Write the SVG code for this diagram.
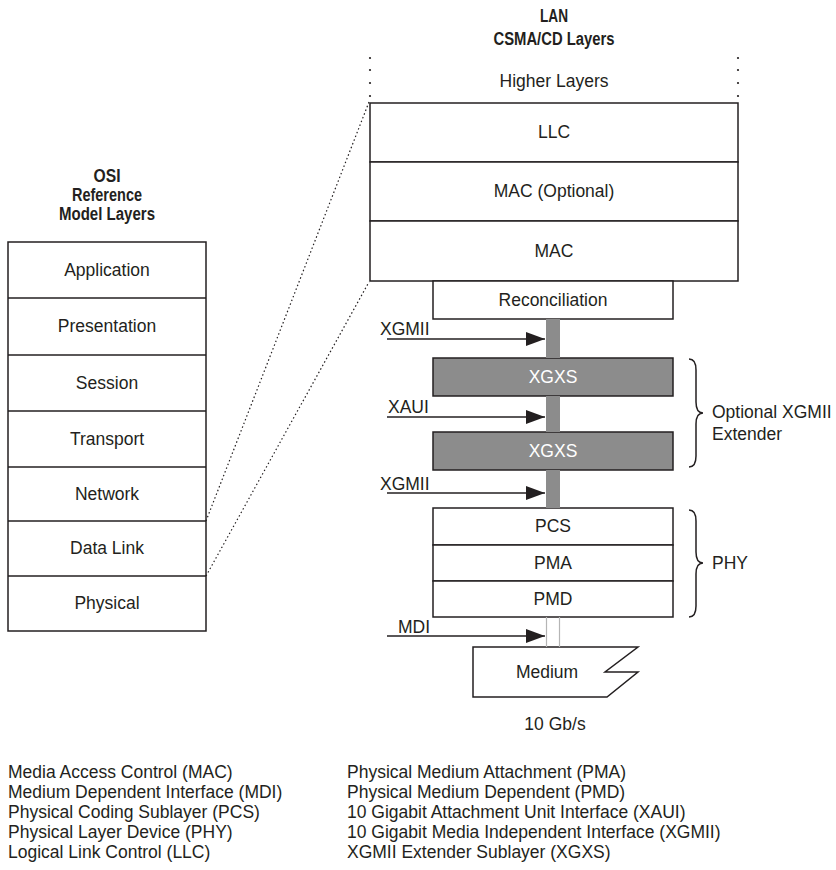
<svg xmlns="http://www.w3.org/2000/svg" width="836" height="870" viewBox="0 0 836 870">
<defs>
<style>
text{font-family:"Liberation Sans",Arial,sans-serif;font-size:17.5px;fill:#231f20}
.c{text-anchor:middle}
.t{font-weight:bold;font-size:18px}
.w{fill:#ffffff}
.box{fill:#ffffff;stroke:#231f20;stroke-width:1.5}
.gbox{fill:#8c8c8c;stroke:#231f20;stroke-width:1.5}
.ln{stroke:#231f20;stroke-width:1.5;fill:none}
.dot{stroke:#231f20;stroke-width:1.2;stroke-dasharray:1.5 2.5;fill:none}
.bar{fill:#8c8c8c}
.thin{stroke:#b5b5b5;stroke-width:1.2}
.arr{stroke:#231f20;stroke-width:1.3}
</style>
<marker id="ah" markerWidth="20" markerHeight="14" refX="19" refY="7" orient="auto" markerUnits="userSpaceOnUse">
<path d="M0,0 L19,7 L0,14 Z" fill="#231f20"/>
</marker>
</defs>
<rect width="836" height="870" fill="#ffffff"/>

<g id="titles">
<text class="c t" x="554" y="22" textLength="28" lengthAdjust="spacingAndGlyphs">LAN</text>
<text class="c t" x="554" y="45" textLength="121" lengthAdjust="spacingAndGlyphs">CSMA/CD Layers</text>
<text class="c t" x="107" y="182" textLength="27" lengthAdjust="spacingAndGlyphs">OSI</text>
<text class="c t" x="107" y="201" textLength="70" lengthAdjust="spacingAndGlyphs">Reference</text>
<text class="c t" x="107" y="220" textLength="96" lengthAdjust="spacingAndGlyphs">Model Layers</text>
</g>

<g id="osi">
<rect class="box" x="8" y="242" width="198" height="389"/>
<line class="ln" x1="8" y1="298" x2="206" y2="298"/>
<line class="ln" x1="8" y1="355" x2="206" y2="355"/>
<line class="ln" x1="8" y1="411" x2="206" y2="411"/>
<line class="ln" x1="8" y1="467" x2="206" y2="467"/>
<line class="ln" x1="8" y1="521" x2="206" y2="521"/>
<line class="ln" x1="8" y1="576" x2="206" y2="576"/>
<text class="c" x="107" y="276">Application</text>
<text class="c" x="107" y="332">Presentation</text>
<text class="c" x="107" y="389">Session</text>
<text class="c" x="107" y="445">Transport</text>
<text class="c" x="107" y="500">Network</text>
<text class="c" x="107" y="554">Data Link</text>
<text class="c" x="107" y="609">Physical</text>
</g>

<g id="higher">
<g fill="#231f20">
<circle cx="370" cy="58" r="1.1"/><circle cx="370" cy="70" r="1.1"/><circle cx="370" cy="83" r="1.1"/><circle cx="370" cy="96" r="1.1"/>
<circle cx="738" cy="58" r="1.1"/><circle cx="738" cy="70" r="1.1"/><circle cx="738" cy="83" r="1.1"/><circle cx="738" cy="96" r="1.1"/>
</g>
<text class="c" x="554" y="87">Higher Layers</text>
</g>

<g id="llc"><rect class="box" x="370" y="103" width="368" height="59"/><text class="c" x="554" y="138">LLC</text></g>
<g id="mac-opt"><rect class="box" x="370" y="162" width="368" height="59"/><text class="c" x="554" y="197">MAC (Optional)</text></g>
<g id="mac"><rect class="box" x="370" y="221" width="368" height="60"/><text class="c" x="554" y="257">MAC</text></g>
<g id="reconciliation"><rect class="box" x="433" y="281" width="240" height="38"/><text class="c" x="553" y="306">Reconciliation</text></g>
<g id="xgxs1"><rect class="gbox" x="433" y="358" width="240" height="38"/><text class="c w" x="553" y="383">XGXS</text></g>
<g id="xgxs2"><rect class="gbox" x="433" y="432" width="240" height="38"/><text class="c w" x="553" y="457">XGXS</text></g>
<g id="pcs"><rect class="box" x="433" y="508" width="240" height="37"/><text class="c" x="553" y="532">PCS</text></g>
<g id="pma"><rect class="box" x="433" y="545" width="240" height="36"/><text class="c" x="553" y="569">PMA</text></g>
<g id="pmd"><rect class="box" x="433" y="581" width="240" height="36"/><text class="c" x="553" y="605">PMD</text></g>
<g id="medium">
<path class="ln" d="M473,647 L638,647 L605,672 L638,672 L607,697 L473,697 Z" fill="#ffffff"/>
<text class="c" x="547" y="678">Medium</text>
<text class="c" x="555" y="730">10 Gb/s</text>
</g>

<g id="connectors">
<line class="dot" x1="206" y1="521" x2="369" y2="102"/>
<line class="dot" x1="206" y1="576" x2="369" y2="282"/>
<rect class="bar" x="546" y="319" width="14" height="39"/>
<rect class="bar" x="546" y="396" width="14" height="36"/>
<rect class="bar" x="546" y="470" width="14" height="38"/>
<line class="thin" x1="546.5" y1="617" x2="546.5" y2="647"/>
<line class="thin" x1="559.5" y1="617" x2="559.5" y2="647"/>
<line class="arr" x1="387" y1="339" x2="545" y2="339" marker-end="url(#ah)"/>
<line class="arr" x1="387" y1="417" x2="545" y2="417" marker-end="url(#ah)"/>
<line class="arr" x1="387" y1="493" x2="545" y2="493" marker-end="url(#ah)"/>
<line class="arr" x1="387" y1="636" x2="545" y2="636" marker-end="url(#ah)"/>
<text x="380" y="335">XGMII</text>
<text x="388" y="413">XAUI</text>
<text x="380" y="490">XGMII</text>
<text x="398" y="633">MDI</text>
</g>

<g id="braces">
<path class="ln" stroke-width="1.2" d="M689,359 Q696,359 696,370 L696,402 Q696,413 703,413 Q696,413 696,424 L696,456 Q696,467 689,467"/>
<text x="712" y="418">Optional XGMII</text>
<text x="712" y="440">Extender</text>
<path class="ln" stroke-width="1.2" d="M689,510 Q696,510 696,521 L696,552 Q696,563 703,563 Q696,563 696,574 L696,606 Q696,617 689,617"/>
<text x="712" y="569">PHY</text>
</g>

<g id="legend">
<text x="8" y="778">Media Access Control (MAC)</text>
<text x="8" y="798">Medium Dependent Interface (MDI)</text>
<text x="8" y="818">Physical Coding Sublayer (PCS)</text>
<text x="8" y="838">Physical Layer Device (PHY)</text>
<text x="8" y="858">Logical Link Control (LLC)</text>
<text x="347" y="778">Physical Medium Attachment (PMA)</text>
<text x="347" y="798">Physical Medium Dependent (PMD)</text>
<text x="347" y="818">10 Gigabit Attachment Unit Interface (XAUI)</text>
<text x="347" y="838">10 Gigabit Media Independent Interface (XGMII)</text>
<text x="347" y="858">XGMII Extender Sublayer (XGXS)</text>
</g>
</svg>
